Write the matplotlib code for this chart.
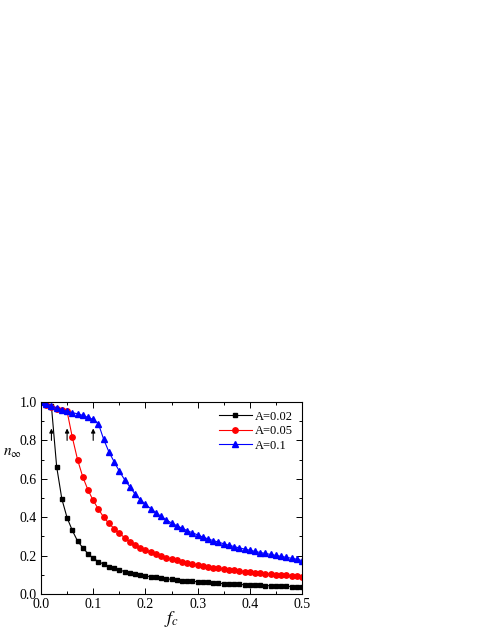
import matplotlib
matplotlib.use("Agg")
import matplotlib.pyplot as plt
from matplotlib.ticker import MultipleLocator
import numpy as np

plt.rcParams['font.family'] = ['Liberation Serif', 'DejaVu Serif']
plt.rcParams['mathtext.fontset'] = 'stix'

fc = [round(0.01 * i, 2) for i in range(51)]

n_a002 = [1.0, 0.99, 0.978, 0.663, 0.494, 0.397, 0.331, 0.276, 0.241, 0.21,
          0.186, 0.169, 0.155, 0.143, 0.133, 0.125, 0.117, 0.110, 0.104, 0.099,
          0.094, 0.090, 0.086, 0.082, 0.079, 0.076, 0.073, 0.070, 0.068, 0.066,
          0.064, 0.062, 0.060, 0.058, 0.056, 0.054, 0.053, 0.051, 0.050, 0.048,
          0.047, 0.046, 0.045, 0.044, 0.043, 0.042, 0.041, 0.040, 0.039, 0.038,
          0.037]

n_a005 = [1.0, 0.985, 0.975, 0.965, 0.957, 0.951, 0.816, 0.70, 0.61, 0.542,
          0.487, 0.442, 0.40, 0.368, 0.341, 0.316, 0.294, 0.272, 0.255, 0.241,
          0.228, 0.217, 0.207, 0.198, 0.190, 0.182, 0.175, 0.168, 0.162, 0.156,
          0.151, 0.146, 0.142, 0.138, 0.134, 0.130, 0.127, 0.123, 0.120, 0.117,
          0.114, 0.111, 0.109, 0.106, 0.104, 0.101, 0.099, 0.097, 0.094, 0.092,
          0.089]

n_a01 = [1.0, 0.99, 0.98, 0.97, 0.96, 0.952, 0.944, 0.939, 0.93, 0.92,
         0.909, 0.887, 0.806, 0.741, 0.689, 0.64, 0.596, 0.559, 0.521, 0.492,
         0.467, 0.445, 0.424, 0.404, 0.386, 0.370, 0.356, 0.343, 0.330, 0.319,
         0.308, 0.297, 0.287, 0.278, 0.270, 0.262, 0.254, 0.247, 0.240, 0.234,
         0.228, 0.222, 0.216, 0.211, 0.206, 0.201, 0.196, 0.191, 0.186, 0.181,
         0.174]

arrow_x = [0.02, 0.05, 0.10]
labels = ['A=0.02', 'A=0.05', 'A=0.1']

W, H = 491, 635
fig = plt.figure(figsize=(W / 100, H / 100), dpi=100)
ax = fig.add_axes([41 / W, 1 - 594 / H, 261 / W, 192 / H])

ax.plot(fc, n_a002, color='black', marker='s', markersize=3.5, lw=0.8, label=labels[0])
ax.plot(fc, n_a005, color='red', marker='o', markersize=3.9, lw=0.8, label=labels[1])
ax.plot(fc, n_a01, color='blue', marker='^', markersize=4.1, lw=0.8, label=labels[2])

for xa in arrow_x:
    ax.annotate('', xy=(xa, 0.862), xytext=(xa, 0.80),
                arrowprops=dict(arrowstyle='-|>', color='black', lw=0.8,
                                mutation_scale=6, shrinkA=0, shrinkB=0))

ax.set_xlim(0, 0.5)
ax.set_ylim(0, 1.0)
ax.xaxis.set_major_locator(MultipleLocator(0.1))
ax.xaxis.set_minor_locator(MultipleLocator(0.05))
ax.yaxis.set_major_locator(MultipleLocator(0.2))
ax.yaxis.set_minor_locator(MultipleLocator(0.1))
ax.xaxis.set_major_formatter(plt.FuncFormatter(lambda v, p: f'{v:.1f}'))
ax.yaxis.set_major_formatter(plt.FuncFormatter(lambda v, p: f'{v:.1f}'))
ax.tick_params(which='both', direction='in', top=True, right=True, labelsize=10, width=0.7)
ax.tick_params(which='major', length=4, pad=3)
ax.tick_params(which='minor', length=2.5)
for s in ax.spines.values():
    s.set_linewidth(0.8)

ax.set_xlabel(r'$f_c$', fontsize=13)
ax.xaxis.set_label_coords(0.5, -0.08)
ax.set_ylabel(r'$n_\infty$', fontsize=11, rotation=0, ha='right', va='center')
ax.yaxis.set_label_coords(-0.075, 0.73)

ax.legend(loc='upper right', frameon=False, fontsize=9, handlelength=2.6,
          handletextpad=0.3, labelspacing=0.2, borderaxespad=0.3)

fig.savefig('out.png', dpi=100)
